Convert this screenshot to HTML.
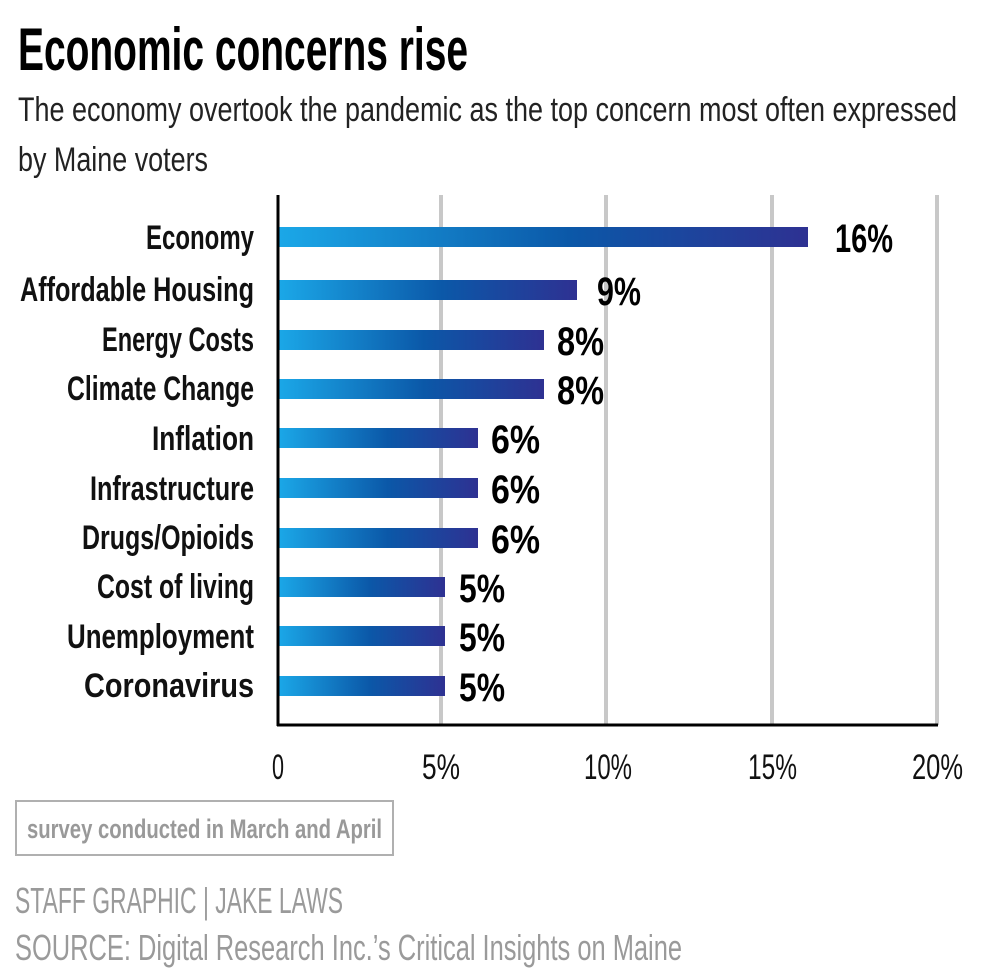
<!DOCTYPE html>
<html><head><meta charset="utf-8"><style>
html,body{margin:0;padding:0;background:#fff;}
svg{display:block;font-family:"Liberation Sans",sans-serif;}
</style></head><body>
<svg width="988" height="976" viewBox="0 0 988 976" xmlns="http://www.w3.org/2000/svg">
<defs>
<linearGradient id="g" x1="0" x2="1" y1="0" y2="0">
<stop offset="0" stop-color="#1ba8e8"/>
<stop offset="0.55" stop-color="#0b58a8"/>
<stop offset="1" stop-color="#2e3192"/>
</linearGradient>
</defs>
<text x="18" y="70" font-size="60" font-weight="bold" textLength="450" lengthAdjust="spacingAndGlyphs" fill="#000">Economic concerns rise</text>
<text x="18" y="121" font-size="34" textLength="939" lengthAdjust="spacingAndGlyphs" fill="#222">The economy overtook the pandemic as the top concern most often expressed</text>
<text x="18" y="171" font-size="34" textLength="190" lengthAdjust="spacingAndGlyphs" fill="#222">by Maine voters</text>
<g stroke="#c8c8c8" stroke-width="4">
<line x1="441" y1="195" x2="441" y2="725"/>
<line x1="606" y1="195" x2="606" y2="725"/>
<line x1="772" y1="195" x2="772" y2="725"/>
<line x1="937" y1="195" x2="937" y2="725"/>
</g>
<g fill="url(#g)">
<rect x="278" y="227" width="530" height="20"/>
<rect x="278" y="280" width="299" height="20"/>
<rect x="278" y="330" width="266" height="20"/>
<rect x="278" y="379" width="266" height="20"/>
<rect x="278" y="428" width="200" height="20"/>
<rect x="278" y="478" width="200" height="20"/>
<rect x="278" y="528" width="200" height="20"/>
<rect x="278" y="577" width="167" height="20"/>
<rect x="278" y="626" width="167" height="20"/>
<rect x="278" y="676" width="167" height="20"/>
</g>
<g stroke="#000" stroke-width="3">
<line x1="278" y1="195" x2="278" y2="726"/>
<line x1="277" y1="725" x2="938" y2="725"/>
</g>
<g font-size="34" font-weight="bold" fill="#111" text-anchor="end">
<text x="254" y="249" textLength="108" lengthAdjust="spacingAndGlyphs">Economy</text>
<text x="254" y="301" textLength="234" lengthAdjust="spacingAndGlyphs">Affordable Housing</text>
<text x="254" y="351" textLength="152" lengthAdjust="spacingAndGlyphs">Energy Costs</text>
<text x="254" y="400" textLength="187" lengthAdjust="spacingAndGlyphs">Climate Change</text>
<text x="254" y="450" textLength="102" lengthAdjust="spacingAndGlyphs">Inflation</text>
<text x="254" y="500" textLength="164" lengthAdjust="spacingAndGlyphs">Infrastructure</text>
<text x="254" y="549" textLength="172" lengthAdjust="spacingAndGlyphs">Drugs/Opioids</text>
<text x="254" y="598" textLength="157" lengthAdjust="spacingAndGlyphs">Cost of living</text>
<text x="254" y="648" textLength="187" lengthAdjust="spacingAndGlyphs">Unemployment</text>
<text x="254" y="697" textLength="170" lengthAdjust="spacingAndGlyphs">Coronavirus</text>
</g>
<g font-size="40" font-weight="bold" fill="#000">
<text x="835" y="252" textLength="58" lengthAdjust="spacingAndGlyphs">16%</text>
<text x="597" y="305" textLength="44" lengthAdjust="spacingAndGlyphs">9%</text>
<text x="557" y="355" textLength="47" lengthAdjust="spacingAndGlyphs">8%</text>
<text x="557" y="404" textLength="47" lengthAdjust="spacingAndGlyphs">8%</text>
<text x="491" y="453" textLength="49" lengthAdjust="spacingAndGlyphs">6%</text>
<text x="491" y="503" textLength="49" lengthAdjust="spacingAndGlyphs">6%</text>
<text x="491" y="553" textLength="49" lengthAdjust="spacingAndGlyphs">6%</text>
<text x="459" y="602" textLength="46" lengthAdjust="spacingAndGlyphs">5%</text>
<text x="459" y="651" textLength="46" lengthAdjust="spacingAndGlyphs">5%</text>
<text x="459" y="701" textLength="46" lengthAdjust="spacingAndGlyphs">5%</text>
</g>
<g font-size="35" fill="#111">
<text x="272" y="779" textLength="12" lengthAdjust="spacingAndGlyphs">0</text>
<text x="422" y="779" textLength="38" lengthAdjust="spacingAndGlyphs">5%</text>
<text x="584" y="779" textLength="48" lengthAdjust="spacingAndGlyphs">10%</text>
<text x="748" y="779" textLength="49" lengthAdjust="spacingAndGlyphs">15%</text>
<text x="912" y="779" textLength="51" lengthAdjust="spacingAndGlyphs">20%</text>
</g>
<rect x="16" y="801" width="377" height="54" fill="none" stroke="#b0b0b0" stroke-width="2"/>
<text x="27" y="838" font-size="27" font-weight="bold" fill="#999" textLength="355" lengthAdjust="spacingAndGlyphs">survey conducted in March and April</text>
<text x="15" y="913" font-size="36" fill="#9a9a9a" textLength="328" lengthAdjust="spacingAndGlyphs">STAFF GRAPHIC | JAKE LAWS</text>
<text x="15" y="960" font-size="36" fill="#9a9a9a" textLength="667" lengthAdjust="spacingAndGlyphs">SOURCE: Digital Research Inc.’s Critical Insights on Maine</text>
</svg>
</body></html>
